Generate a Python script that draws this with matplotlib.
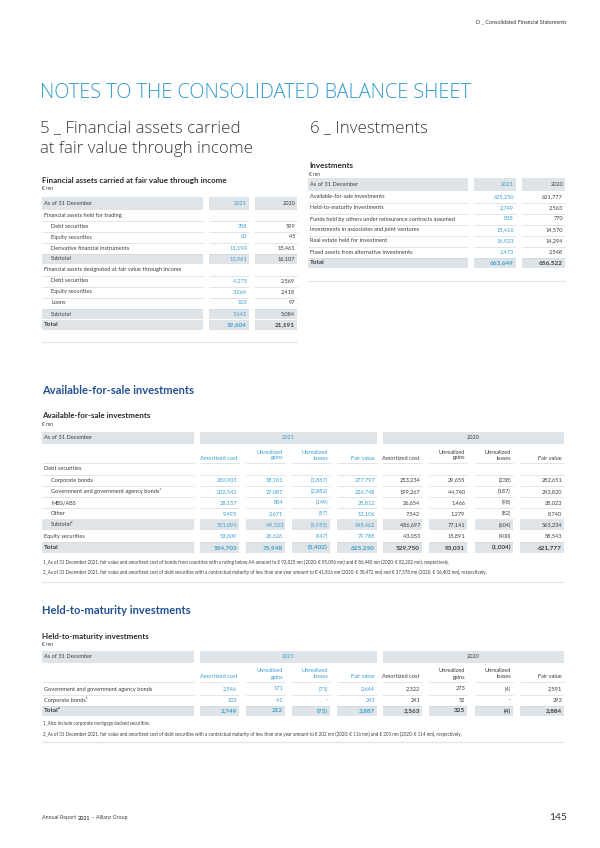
import matplotlib.pyplot as plt
from matplotlib.patches import Rectangle

plt.rcParams['font.family'] = ['Lato', 'DejaVu Sans']

# ---- data ----
fv_labels = ['Financial assets held for trading', 'Debt securities', 'Equity securities',
             'Derivative financial instruments', 'Subtotal',
             'Financial assets designated at fair value through income', 'Debt securities',
             'Equity securities', 'Loans', 'Subtotal', 'Total']
fv_kind = ['group', 'item', 'item', 'item', 'sub', 'group', 'item', 'item', 'item', 'sub', 'total']
fv_2021 = ['', '708', '63', '11,190', '11,961', '', '4,275', '3,264', '103', '7,643', '19,604']
fv_2020 = ['', '599', '45', '15,463', '16,107', '', '2,569', '2,418', '97', '5,084', '21,191']

inv_labels = ['Available-for-sale investments', 'Held-to-maturity investments',
              'Funds held by others under reinsurance contracts assumed',
              'Investments in associates and joint ventures', 'Real estate held for investment',
              'Fixed assets from alternative investments', 'Total']
inv_kind = ['plain'] * 6 + ['total']
inv_2021 = ['625,250', '2,749', '838', '15,416', '16,923', '2,473', '663,649']
inv_2020 = ['621,777', '2,563', '770', '14,570', '14,294', '2,548', '656,522']

sub_heads = ['Amortized cost', 'Unrealized\ngains', 'Unrealized\nlosses', 'Fair value']

afs_labels = ['Debt securities', 'Corporate bonds', 'Government and government agency bonds\u00b9',
              'MBS/ABS', 'Other', 'Subtotal\u00b2', 'Equity securities', 'Total']
afs_kind = ['group', 'item', 'item', 'item', 'item', 'sub', 'plain', 'total']
afs_2021 = [[''] * 4,
            ['260,903', '18,761', '(1,867)', '277,797'],
            ['202,542', '27,087', '(2,882)', '226,748'],
            ['28,157', '804', '(149)', '28,812'],
            ['9,493', '2,671', '(57)', '12,106'],
            ['501,094', '49,323', '(4,955)', '545,462'],
            ['53,609', '26,626', '(447)', '79,788'],
            ['554,703', '75,948', '(5,402)', '625,250']]
afs_2020 = [[''] * 4,
            ['253,234', '29,655', '(238)', '282,651'],
            ['199,267', '44,740', '(187)', '243,820'],
            ['26,654', '1,466', '(98)', '28,023'],
            ['7,542', '1,279', '(82)', '8,740'],
            ['486,697', '77,141', '(604)', '563,234'],
            ['43,053', '15,891', '(400)', '58,543'],
            ['529,750', '93,031', '(1,004)', '621,777']]
afs_notes = ['1_As of 31 December 2021, fair value and amortized cost of bonds from countries with a rating '
             'below AA amount to \u20ac 92,825 mn (2020: \u20ac 95,096 mn) and \u20ac 86,440 mn '
             '(2020: \u20ac 82,202 mn), respectively.',
             '2_As of 31 December 2021, fair value and amortized cost of debt securities with a contractual '
             'maturity of less than one year amount to \u20ac 41,816 mn (2020: \u20ac 38,472 mn) and '
             '\u20ac 37,378 mn (2020: \u20ac 36,403 mn), respectively.']

htm_labels = ['Government and government agency bonds', 'Corporate bonds\u00b9', 'Total\u00b2']
htm_kind = ['plain', 'plain', 'total']
htm_2021 = [['2,546', '171', '(73)', '2,644'],
            ['202', '41', '-', '243'],
            ['2,749', '212', '(73)', '2,887']]
htm_2020 = [['2,322', '273', '(4)', '2,591'],
            ['241', '52', '-', '293'],
            ['2,563', '325', '(4)', '2,884']]
htm_notes = ['1_Also include corporate mortgage backed securities.',
             '2_As of 31 December 2021, fair value and amortized cost of debt securities with a contractual '
             'maturity of less than one year amount to \u20ac 202 mn (2020: \u20ac 116 mn) and '
             '\u20ac 200 mn (2020: \u20ac 114 mn), respectively.']

# ---- style ----
BLUE = '#3a9ecd'
NAVY = '#22508f'
TXT = '#3d3d3d'
GRAY = '#dfe4e8'
LINE = '#d2d7db'
FS = 4.1
HEAD_FONT = ['Open Sans', 'Lato', 'DejaVu Sans']

W, H = 600, 848
fig = plt.figure(figsize=(6, 8.48), dpi=100)
ax = fig.add_axes([0, 0, 1, 1])
ax.set_xlim(0, W)
ax.set_ylim(H, 0)
ax.axis('off')


def band(x0, x1, y, h=10.5):
    ax.add_patch(Rectangle((x0, y - h / 2), x1 - x0, h, color=GRAY, lw=0, zorder=1))


def rule(x0, x1, y, lw=0.45, color=LINE):
    ax.plot([x0, x1], [y, y], color=color, lw=lw, zorder=2, solid_capstyle='butt')


def txt(x, y, s, fs=FS, ha='left', color=TXT, weight='normal', va='center', **kw):
    return ax.text(x, y, s, fontsize=fs, ha=ha, va=va, color=color, weight=weight, zorder=3, **kw)


def simple_table(x_title, y_title, title, cols, y_head, y0, labels, kinds, v21, v20, y_end):
    txt(x_title, y_title, title, fs=5.8, weight='bold', color='#2a2a2a')
    txt(x_title, y_title + 8.5, '\u20ac mn', fs=3.6)
    for c0, c1 in cols:
        band(c0, c1, y_head, 13)
    txt(cols[0][0] + 2, y_head, 'As of 31 December')
    txt(cols[1][1] - 2, y_head, '2021', ha='right', color=BLUE)
    txt(cols[2][1] - 2, y_head, '2020', ha='right')
    for i, (lab, k) in enumerate(zip(labels, kinds)):
        y = y0 + 11 * i
        if k in ('sub', 'total'):
            for c0, c1 in cols:
                band(c0, c1, y)
        else:
            for c0, c1 in cols:
                rule(c0, c1, y + 5.5)
        indent = 9 if k in ('item', 'sub') else 2
        w = 'bold' if k == 'total' else 'normal'
        fs = 4.6 if k == 'total' else FS
        txt(cols[0][0] + indent, y, lab, fs=fs, weight=w)
        txt(cols[1][1] - 2, y, v21[i], ha='right', color=BLUE, weight=w, fs=fs)
        txt(cols[2][1] - 2, y, v20[i], ha='right', weight=w, fs=fs)
    rule(cols[0][0], cols[2][1], y_end, lw=0.9, color='#e0e4e7')


def wide_table(y_title, title, y_head, y0, step, labels, kinds, v21, v20, notes, y_notes, y_end):
    lab_col = (42, 194)
    sub_cols = [(200, 239), (246, 285), (292, 330), (337, 377),
                (383, 422), (429, 467), (475, 513), (520, 564)]
    txt(42, y_title, title, fs=5.8, weight='bold', color='#2a2a2a')
    txt(42, y_title + 8.5, '\u20ac mn', fs=3.6)
    band(lab_col[0], lab_col[1], y_head, 12)
    band(200, 377, y_head, 12)
    band(383, 564, y_head, 12)
    txt(44, y_head, 'As of 31 December')
    txt((200 + 377) / 2, y_head, '2021', ha='center', color=BLUE)
    txt((383 + 564) / 2, y_head, '2020', ha='center')
    # sub headers
    y_sub = y_head + 23
    rule(lab_col[0], lab_col[1], y_sub + 2.5)
    for j, (c0, c1) in enumerate(sub_cols):
        rule(c0, c1, y_sub + 2.5)
        txt(c1 - 2, y_sub, sub_heads[j % 4], ha='right', va='bottom',
            color=BLUE if j < 4 else TXT, linespacing=1.25)
    for i, (lab, k) in enumerate(zip(labels, kinds)):
        y = y0 + step * i
        if k in ('sub', 'total'):
            band(lab_col[0], lab_col[1], y)
            for c0, c1 in sub_cols:
                band(c0, c1, y)
        else:
            rule(lab_col[0], lab_col[1], y + 5.5)
            for c0, c1 in sub_cols:
                rule(c0, c1, y + 5.5)
        indent = 9 if k in ('item', 'sub') else 2
        w = 'bold' if k == 'total' else 'normal'
        fs = 4.6 if k == 'total' else FS
        txt(lab_col[0] + indent, y, lab, fs=fs, weight=w)
        vals = list(v21[i]) + list(v20[i])
        for j, (c0, c1) in enumerate(sub_cols):
            txt(c1 - 2, y, vals[j], ha='right', weight=w, fs=fs,
                color=BLUE if j < 4 else TXT)
    for n, note in enumerate(notes):
        txt(43, y_notes + 10 * n, note, fs=3.27)
    rule(42, 564, y_end, lw=0.9, color='#e0e4e7')


# ---- page header / titles ----
txt(567, 22, 'D _ Consolidated Financial Statements', fs=3.9, ha='right', color='#333333')
txt(40, 93, 'NOTES TO THE CONSOLIDATED BALANCE SHEET', fs=14.3, color='#2f9bcc',
    weight='light', family=HEAD_FONT)
txt(40, 128, '5 _ Financial assets carried', fs=12.2, color='#3a3a3a', weight='light', family=HEAD_FONT)
txt(40, 149, 'at fair value through income', fs=12.2, color='#3a3a3a', weight='light', family=HEAD_FONT)
txt(310, 128, '6 _ Investments', fs=12.2, color='#3a3a3a', weight='light', family=HEAD_FONT)

simple_table(42, 180, 'Financial assets carried at fair value through income',
             [(42, 203), (209, 249), (255, 297)], 203.5, 215,
             fv_labels, fv_kind, fv_2021, fv_2020, 342)
simple_table(309, 166, 'Investments',
             [(308, 468), (474, 516), (522, 565)], 184.5, 197,
             inv_labels, inv_kind, inv_2021, inv_2020, 281)

txt(42, 390, 'Available-for-sale investments', fs=8.0, weight='bold', color=NAVY)
wide_table(416, 'Available-for-sale investments', 437.5, 469, 11.2,
           afs_labels, afs_kind, afs_2021, afs_2020, afs_notes, 562, 582)

txt(42, 611, 'Held-to-maturity investments', fs=8.0, weight='bold', color=NAVY)
wide_table(636, 'Held-to-maturity investments', 656.5, 689, 11,
           htm_labels, htm_kind, htm_2021, htm_2020, htm_notes, 724, 742)

# ---- footer ----
fig.canvas.draw()
r = fig.canvas.get_renderer()
x = 42
for part, w in [('Annual Report ', 'normal'), ('2021', 'bold'), (' \u2013 Allianz Group', 'normal')]:
    t = txt(x, 818, part, fs=3.9, weight=w, color='#444444')
    bb = t.get_window_extent(renderer=r)
    x += bb.width
txt(567, 817, '145', fs=7.5, ha='right', color='#333333')

fig.savefig('out.png', dpi=100)
